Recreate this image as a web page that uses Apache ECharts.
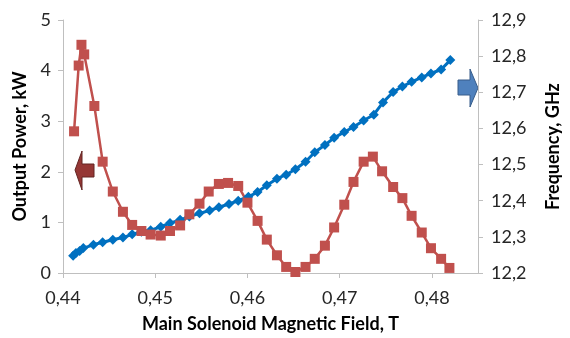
<!DOCTYPE html>
<html>
<head>
<meta charset="utf-8">
<script src="https://cdn.jsdelivr.net/npm/echarts@6/dist/echarts.min.js"></script>
<style>
  html, body { margin: 0; padding: 0; background: #fff; }
  #chart { width: 570px; height: 338px; }
</style>
</head>
<body>
<div id="chart"></div>
<script>
// magnetic field (T) for output power points
const fieldPower = [0.4412, 0.4417, 0.4420, 0.4423, 0.4434, 0.4443, 0.4454, 0.4465, 0.4475, 0.4485,
    0.4495, 0.4506, 0.4516, 0.4527, 0.4537, 0.4548, 0.4558, 0.4569, 0.4579, 0.4590,
    0.4600, 0.4611, 0.4621, 0.4632, 0.4642, 0.4652, 0.4663, 0.4673, 0.4684, 0.4694,
    0.4705, 0.4715, 0.4726, 0.4736, 0.4746, 0.4758, 0.4768, 0.4778, 0.4789, 0.4799,
    0.4810, 0.4819];
// output power, kW
const power = [2.80, 4.10, 4.51, 4.32, 3.30, 2.20, 1.61, 1.21, 0.95, 0.83,
    0.76, 0.74, 0.83, 0.94, 1.16, 1.37, 1.61, 1.76, 1.78, 1.72,
    1.39, 1.03, 0.66, 0.35, 0.12, 0.02, 0.12, 0.28, 0.54, 0.90,
    1.35, 1.80, 2.20, 2.30, 2.01, 1.70, 1.48, 1.13, 0.80, 0.49,
    0.28, 0.10];

// magnetic field (T) for frequency points
const fieldFreq = [0.4411, 0.4414, 0.4418, 0.4422, 0.4433, 0.4443, 0.4454, 0.4465, 0.4475, 0.4485,
    0.4495, 0.4506, 0.4516, 0.4527, 0.4537, 0.4548, 0.4559, 0.4569, 0.4580, 0.4590,
    0.4601, 0.4611, 0.4621, 0.4632, 0.4642, 0.4652, 0.4663, 0.4673, 0.4684, 0.4694,
    0.4705, 0.4715, 0.4726, 0.4737, 0.4747, 0.4758, 0.4768, 0.4778, 0.4789, 0.4799,
    0.4810, 0.4820];
// frequency, GHz
const freq = [12.248, 12.255, 12.261, 12.269, 12.278, 12.285, 12.292, 12.298, 12.307, 12.314,
    12.318, 12.328, 12.338, 12.347, 12.356, 12.365, 12.373, 12.382, 12.391, 12.400,
    12.411, 12.424, 12.443, 12.461, 12.472, 12.487, 12.508, 12.534, 12.554, 12.574,
    12.590, 12.604, 12.622, 12.638, 12.672, 12.701, 12.716, 12.729, 12.741, 12.752,
    12.763, 12.789];

const FONT = 'Lato';
const comma = (v, d) => v.toFixed(d).replace('.', ',');

const chart = echarts.init(document.getElementById('chart'));

const axisLine = { show: true, lineStyle: { color: '#bfbfbf', width: 1 } };
const axisTick = { show: true, length: 5, lineStyle: { color: '#bfbfbf' } };
const labelStyle = { color: '#262626', fontFamily: FONT, fontSize: 18 };
const nameStyle = { color: '#000', fontFamily: FONT, fontSize: 18, fontWeight: 'bold' };

const option = {
    animation: false,
    backgroundColor: '#fff',
    grid: { left: 63, right: 80, top: 20, bottom: 62, containLabel: false },
    xAxis: {
        type: 'value',
        min: 0.44,
        max: 0.485,
        interval: 0.01,
        name: 'Main Solenoid Magnetic Field, T',
        nameLocation: 'middle',
        nameGap: 42,
        nameTextStyle: nameStyle,
        axisLine: axisLine,
        axisTick: axisTick,
        splitLine: { show: false },
        axisLabel: Object.assign({ margin: 16, showMaxLabel: false, formatter: v => comma(v, 2) }, labelStyle)
    },
    yAxis: [
        {
            type: 'value',
            min: 0,
            max: 5,
            interval: 1,
            name: 'Output Power, kW',
            nameLocation: 'middle',
            nameRotate: 90,
            nameGap: 34,
            nameTextStyle: nameStyle,
            axisLine: axisLine,
            axisTick: axisTick,
            splitLine: { show: false },
            axisLabel: Object.assign({ margin: 12 }, labelStyle)
        },
        {
            type: 'value',
            position: 'right',
            min: 12.2,
            max: 12.9,
            interval: 0.1,
            name: 'Frequency, GHz',
            nameLocation: 'middle',
            nameRotate: 90,
            nameGap: 66,
            nameTextStyle: nameStyle,
            axisLine: axisLine,
            axisTick: axisTick,
            splitLine: { show: false },
            axisLabel: Object.assign({ margin: 13, formatter: v => comma(v, 1) }, labelStyle)
        }
    ],
    series: [
        {
            name: 'Frequency',
            type: 'line',
            yAxisIndex: 1,
            data: fieldFreq.map((x, i) => [x, freq[i]]),
            symbol: 'diamond',
            symbolSize: 10,
            lineStyle: { color: '#0070c0', width: 3 },
            itemStyle: { color: '#0070c0' }
        },
        {
            name: 'Output Power',
            type: 'line',
            yAxisIndex: 0,
            data: fieldPower.map((x, i) => [x, power[i]]),
            symbol: 'rect',
            symbolSize: 10,
            lineStyle: { color: '#c0504d', width: 2.5 },
            itemStyle: { color: '#c0504d' },
            z: 3
        }
    ],
    graphic: [
        {
            // arrow pointing to the power axis
            type: 'polygon',
            shape: { points: [[75, 170], [82, 151], [82, 164], [94, 164], [94, 177], [82, 177], [82, 190]] },
            style: { fill: '#953735', stroke: '#632523', lineWidth: 1 }
        },
        {
            // arrow pointing to the frequency axis
            type: 'polygon',
            shape: { points: [[478, 88], [470, 69], [470, 80], [458, 80], [458, 95], [470, 95], [470, 107]] },
            style: { fill: '#4f81bd', stroke: '#385d8a', lineWidth: 1 }
        }
    ]
};

chart.setOption(option);
</script>
</body>
</html>
